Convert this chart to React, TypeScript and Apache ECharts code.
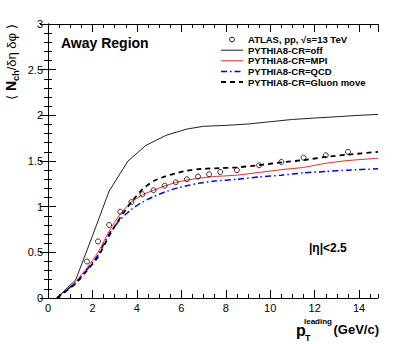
import React, { useEffect, useRef } from "react";
import * as echarts from "echarts";

// ATLAS data points
const ptAtlas = [1.75, 2.25, 2.75, 3.25, 3.75, 4.25, 4.75, 5.25, 5.75, 6.25, 6.75, 7.25, 7.75, 8.5, 9.5, 10.5, 11.5, 12.5, 13.5];
const atlasValues = [0.4, 0.62, 0.8, 0.945, 1.05, 1.135, 1.18, 1.23, 1.267, 1.3, 1.33, 1.355, 1.38, 1.4, 1.453, 1.49, 1.537, 1.563, 1.6];

// PYTHIA8-CR=off
const ptOff = [0.4, 1.25, 2.0, 2.75, 3.6, 4.4, 5.3, 6.25, 7.0, 8.0, 9.0, 10.0, 11.0, 12.0, 13.0, 14.0, 14.85];
const crOff = [0, 0.2, 0.68, 1.17, 1.5, 1.67, 1.78, 1.85, 1.88, 1.89, 1.905, 1.93, 1.955, 1.97, 1.985, 2.0, 2.01];

// Other PYTHIA8 tunes share x points
const ptCR = [0.4, 1.25, 1.75, 2.25, 2.75, 3.25, 3.75, 4.25, 4.75, 5.25, 5.75, 6.25, 6.75, 7.5, 8.5, 9.5, 10.5, 11.5, 12.5, 13.5, 14.85];
const crGluon = [0, 0.16, 0.3, 0.45, 0.68, 0.88, 1.05, 1.19, 1.28, 1.33, 1.365, 1.395, 1.41, 1.42, 1.43, 1.455, 1.485, 1.51, 1.545, 1.57, 1.6];
const crMPI = [0, 0.18, 0.33, 0.5, 0.73, 0.92, 1.05, 1.13, 1.18, 1.225, 1.265, 1.29, 1.31, 1.33, 1.345, 1.375, 1.405, 1.43, 1.475, 1.505, 1.53];
const crQCD = [0, 0.17, 0.31, 0.47, 0.7, 0.86, 0.97, 1.05, 1.11, 1.16, 1.2, 1.23, 1.255, 1.28, 1.3, 1.325, 1.345, 1.37, 1.385, 1.4, 1.415];

const legendNames = [
  "ATLAS, pp, √s=13 TeV",
  "PYTHIA8-CR=off",
  "PYTHIA8-CR=MPI",
  "PYTHIA8-CR=QCD",
  "PYTHIA8-CR=Gluon move",
];

const X_MIN = 0;
const X_MAX = 14.85;
const Y_MIN = 0;
const Y_MAX = 3;

const FONT = "'Liberation Sans', Arial, Helvetica, sans-serif";

const zip = (xs: number[], ys: number[]) => xs.map((x, i) => [x, ys[i]]);

export default function App() {
  const ref = useRef<HTMLDivElement>(null);

  useEffect(() => {
    if (!ref.current) return;
    const chart = echarts.init(ref.current, undefined, { renderer: "svg" });

    const axisLine = { show: true, lineStyle: { color: "#000", width: 1 } };
    const baseX = (position: "top" | "bottom", interval: number, len: number, labels: boolean, line: boolean) => ({
      type: "value",
      position,
      min: X_MIN,
      max: X_MAX,
      interval,
      axisLine: line ? axisLine : { show: false },
      axisTick: { show: true, inside: true, length: len, lineStyle: { color: "#000", width: 1 } },
      axisLabel: labels
        ? {
            show: true,
            color: "#000",
            fontSize: 11,
            fontFamily: FONT,
            margin: 4,
            showMaxLabel: false,
          }
        : { show: false },
      splitLine: { show: false },
    });
    const baseY = (position: "left" | "right", labels: boolean) => ({
      type: "value",
      position,
      min: Y_MIN,
      max: Y_MAX,
      interval: 0.5,
      axisLine: axisLine,
      axisTick: { show: true, inside: true, length: 8, lineStyle: { color: "#000", width: 1 } },
      minorTick: { show: true, splitNumber: 5, length: 4, lineStyle: { color: "#000", width: 1 } },
      axisLabel: labels
        ? { show: true, color: "#000", fontSize: 11, fontFamily: FONT, margin: 5 }
        : { show: false },
      splitLine: { show: false },
      minorSplitLine: { show: false },
    });

    const legendY = [39.5, 50.2, 60.8, 71.4, 82];
    const legendGraphics: any[] = [];
    legendGraphics.push({
      type: "circle",
      shape: { cx: 232, cy: legendY[0], r: 2.4 },
      style: { fill: "none", stroke: "#000", lineWidth: 1 },
    });
    const lineStyles = [
      { stroke: "#222", lineWidth: 1 },
      { stroke: "#ff2020", lineWidth: 1 },
      { stroke: "#0000ff", lineWidth: 1.5, lineDash: [6, 3, 1.5, 3] },
      { stroke: "#000", lineWidth: 1.8, lineDash: [5, 4] },
    ];
    lineStyles.forEach((st, i) => {
      legendGraphics.push({
        type: "line",
        shape: { x1: 221, y1: legendY[i + 1], x2: 243, y2: legendY[i + 1] },
        style: st,
      });
    });
    legendNames.forEach((name, i) => {
      legendGraphics.push({
        type: "text",
        x: 248,
        y: legendY[i],
        style: {
          text: name,
          fill: "#000",
          font: `bold 9.5px ${FONT}`,
          verticalAlign: "middle",
          align: "left",
        },
      });
    });

    chart.setOption({
      animation: false,
      backgroundColor: "#fff",
      grid: { left: 48, right: 37, top: 24, bottom: 46, containLabel: false },
      xAxis: [
        baseX("bottom", 2, 8, true, true),
        baseX("bottom", 0.5, 4, false, false),
        baseX("top", 2, 8, false, true),
        baseX("top", 0.5, 4, false, false),
      ],
      yAxis: [baseY("left", true), baseY("right", false)],
      series: [
        {
          name: legendNames[1],
          type: "line",
          data: zip(ptOff, crOff),
          symbol: "none",
          lineStyle: { color: "#222", width: 1 },
          z: 2,
        },
        {
          name: legendNames[2],
          type: "line",
          data: zip(ptCR, crMPI),
          symbol: "none",
          smooth: 0.2,
          lineStyle: { color: "#ff2020", width: 1 },
          z: 2,
        },
        {
          name: legendNames[3],
          type: "line",
          data: zip(ptCR, crQCD),
          symbol: "none",
          smooth: 0.2,
          lineStyle: { color: "#0000ff", width: 1.5, type: [6, 3, 1.5, 3] },
          z: 2,
        },
        {
          name: legendNames[4],
          type: "line",
          data: zip(ptCR, crGluon),
          symbol: "none",
          smooth: 0.2,
          lineStyle: { color: "#000", width: 1.8, type: [5, 4] },
          z: 3,
        },
        {
          name: legendNames[0],
          type: "scatter",
          data: zip(ptAtlas, atlasValues),
          symbol: "circle",
          symbolSize: 5,
          itemStyle: { color: "rgba(0,0,0,0)", borderColor: "#000", borderWidth: 1 },
          z: 4,
        },
      ],
      graphic: [
        ...legendGraphics,
        {
          type: "text",
          x: 61,
          y: 43,
          style: {
            text: "Away Region",
            fill: "#000",
            font: `bold 14px ${FONT}`,
            verticalAlign: "middle",
          },
        },
        {
          type: "text",
          x: 309,
          y: 248,
          style: {
            text: "|η|<2.5",
            fill: "#000",
            font: `bold 12px ${FONT}`,
            verticalAlign: "middle",
          },
        },
        // y-axis title (rotated)
        {
          type: "text",
          x: 11,
          y: 62,
          rotation: Math.PI / 2,
          style: {
            text: "{a|⟨ }{n|N}{s|ch}{a|/δη δφ ⟩}",
            align: "center",
            verticalAlign: "middle",
            fill: "#000",
            rich: {
              a: { fontSize: 13, fontFamily: FONT, lineHeight: 18, verticalAlign: "middle", fill: "#000" },
              n: { fontSize: 14, fontWeight: "bold", fontFamily: FONT, lineHeight: 18, verticalAlign: "middle", fill: "#000" },
              s: { fontSize: 9, fontWeight: "bold", fontFamily: FONT, lineHeight: 18, verticalAlign: "bottom", fill: "#000" },
            },
          },
        },
        // x-axis title pieces
        {
          type: "text",
          x: 296,
          y: 330,
          style: { text: "p", fill: "#000", font: `bold 16px ${FONT}`, verticalAlign: "middle" },
        },
        {
          type: "text",
          x: 305,
          y: 338,
          style: { text: "T", fill: "#000", font: `bold 9px ${FONT}`, verticalAlign: "middle" },
        },
        {
          type: "text",
          x: 304,
          y: 321,
          style: { text: "leading", fill: "#000", font: `bold 8px ${FONT}`, verticalAlign: "middle" },
        },
        {
          type: "text",
          x: 379,
          y: 329,
          style: { text: "(GeV/c)", fill: "#000", font: `bold 13px ${FONT}`, verticalAlign: "middle", align: "right" },
        },
      ],
    });

    return () => chart.dispose();
  }, []);

  return (
    <div
      ref={ref}
      style={{ position: "absolute", left: 0, top: 0, width: 415, height: 344, background: "#fff" }}
    />
  );
}
